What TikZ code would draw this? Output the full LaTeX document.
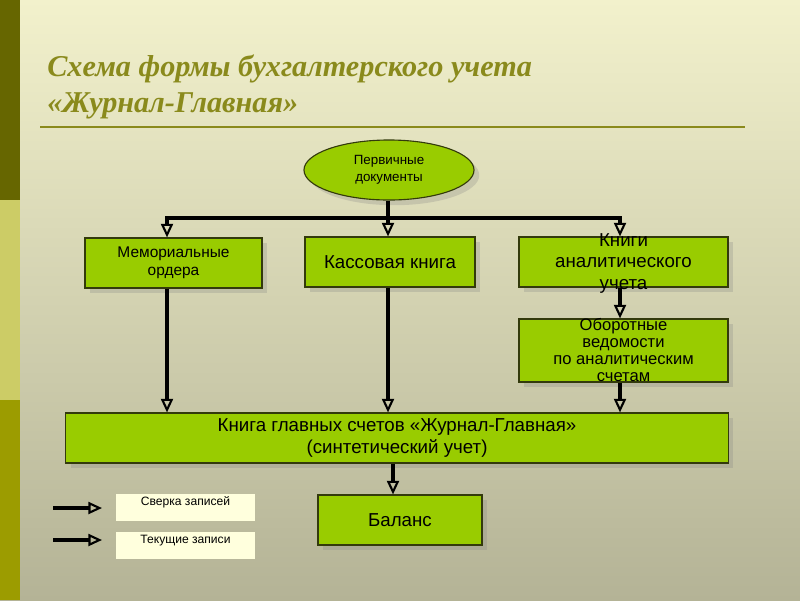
\documentclass[tikz,border=0pt]{standalone}
\usepackage{fontspec}
\setmainfont{Liberation Serif}
\setsansfont{Liberation Sans}
\usetikzlibrary{shapes,positioning,arrows.meta,shadows}

\definecolor{bgtop}{HTML}{F2F1CC}
\definecolor{bgbot}{HTML}{B4B396}
\definecolor{stripedark}{HTML}{666600}
\definecolor{stripelight}{HTML}{CCCC66}
\definecolor{stripeolive}{HTML}{9C9C00}
\definecolor{titleolive}{HTML}{8A8A1C}
\definecolor{boxgreen}{HTML}{99CC00}
\definecolor{boxline}{HTML}{333A0C}
\definecolor{notefill}{HTML}{FFFFDD}

\tikzset{
  box/.style = {draw = boxline, fill = boxgreen, line width = 0.8pt, inner sep = 0pt,
    align = center, font = \sffamily,
    drop shadow = {opacity = 0.25, shadow xshift = 1.3mm, shadow yshift = -1.3mm}},
  flow/.style = {line width = 2.2pt, -{Triangle[open, length = 3.4mm, width = 3mm, line width = 1.5pt]}},
  note/.style = {fill = notefill, inner sep = 0pt, minimum width = 3.475cm, minimum height = 0.675cm,
    text height = 6pt, text depth = 9.5pt, font = \sffamily\fontsize{8.6}{9}\selectfont}
}

\begin{document}
\begin{tikzpicture}[x = 0.025cm, y = -0.025cm]
        \useasboundingbox (0, 0) rectangle (800, 600);
        \shade [top color = bgtop, bottom color = bgbot] (0, 0) rectangle (800, 600);
        \fill [stripedark] (0, 0) rectangle (20, 200);
        \fill [stripelight] (0, 200) rectangle (20, 400);
        \fill [stripeolive] (0, 400) rectangle (20, 600);

        % title
        \node [anchor = north west, align = left, inner sep = 0pt, text = titleolive,
               font = \bfseries\itshape\fontsize{21.5}{25}\selectfont] (TT) at (47, 55)
              {Схема формы бухгалтерского учета\\«Журнал-Главная»};
        \draw [titleolive, line width = 1.2pt] (40, 127) -- (745, 127);

        % boxes
        \node [box, ellipse, minimum width = 4.25cm, minimum height = 1.5cm,
               font = \sffamily\fontsize{9.5}{12}\selectfont] (PD) at (389, 170) {Первичные\\документы};
        \node [box, minimum width = 4.425cm, minimum height = 1.25cm,
               font = \sffamily\fontsize{11}{12.5}\selectfont] (MO) at (173.5, 263) {Мемориальные\\ордера};
        \node [box, minimum width = 4.25cm, minimum height = 1.25cm,
               font = \sffamily\fontsize{13.3}{15}\selectfont] (KK) at (390, 262) {Кассовая книга};
        \node [box, minimum width = 5.225cm, minimum height = 1.25cm,
               font = \sffamily\fontsize{13.3}{15.3}\selectfont] (KA) at (623.5, 262)
              {\smash{\raisebox{-4.5pt}{\begin{tabular}{@{}c@{}}Книги\\аналитического\\учета\end{tabular}}}};
        \node [box, minimum width = 5.225cm, minimum height = 1.575cm,
               font = \sffamily\fontsize{11.8}{12.2}\selectfont] (OV) at (623.5, 350.5)
              {\smash{\raisebox{-4.5pt}{\begin{tabular}{@{}c@{}}Оборотные\\ведомости\\по аналитическим\\счетам\end{tabular}}}};
        \node [box, minimum width = 16.55cm, minimum height = 1.25cm,
               font = \sffamily\fontsize{13.3}{16}\selectfont] (GL) at (397, 438)
              {Книга главных счетов «Журнал-Главная»\\(синтетический учет)};
        \node [box, minimum width = 4.1cm, minimum height = 1.25cm,
               font = \sffamily\fontsize{13.3}{15}\selectfont] (BA) at (400, 520) {Баланс};

        % connectors
        \coordinate (J1) at (167, 218);
        \coordinate (J2) at (388, 218);
        \coordinate (J3) at (620, 218);
        \coordinate (J4) at (393, 480);
        \draw [line width = 2.2pt] (PD.south -| J2) -- (J2);
        \draw [line width = 2.2pt, line cap = rect] (J1) -- (J3);
        \draw [flow] (J1) -- (J1 |- MO.north);
        \draw [flow] (J2) -- (J2 |- KK.north);
        \draw [flow] (J3) -- (J3 |- KA.north);
        \draw [flow] (J1 |- MO.south) -- (J1 |- GL.north);
        \draw [flow] (J2 |- KK.south) -- (J2 |- GL.north);
        \draw [flow] (J3 |- KA.south) -- (J3 |- OV.north);
        \draw [flow] (J3 |- OV.south) -- (J3 |- GL.north);
        \draw [flow] (J4 |- GL.south) -- (J4 |- BA.north);

        % legend
        \node [note] (N1) at (185.5, 507.5) {Сверка записей};
        \node [note] (N2) at (185.5, 545.5) {Текущие записи};
        \coordinate (L1) at (53, 508);
        \coordinate (R1) at (102, 508);
        \coordinate (L2) at (53, 540);
        \coordinate (R2) at (102, 540);
        \draw [flow] (L1) -- (R1);
        \draw [flow] (L2) -- (R2);
\end{tikzpicture}
\end{document}
